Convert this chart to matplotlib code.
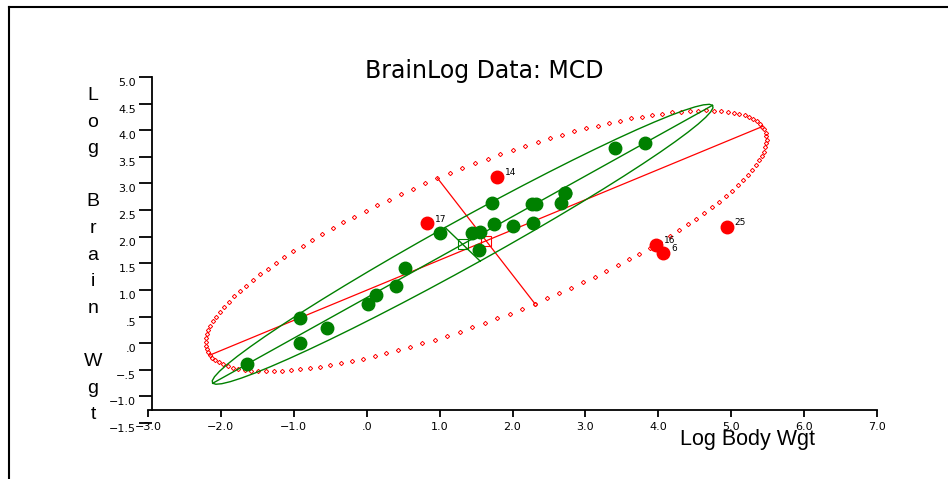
import numpy as np
import matplotlib
matplotlib.use("Agg")
from matplotlib import pyplot as plt
from matplotlib.transforms import ScaledTranslation
from matplotlib.lines import Line2D

# log10 body weight / log10 brain weight
good_x = [-1.64, -0.92, -0.91, -0.55, 0.02, 0.13, 0.40, 0.52, 1.00, 1.44, 1.54, 1.56,
          1.72, 1.74, 2.00, 2.27, 2.28, 2.32, 2.67, 2.72, 2.72, 3.41, 3.82]
good_y = [-0.40, 0.00, 0.48, 0.28, 0.74, 0.91, 1.08, 1.41, 2.06, 2.06, 1.75, 2.08,
          2.64, 2.24, 2.20, 2.62, 2.26, 2.61, 2.63, 2.82, 2.83, 3.66, 3.76]

# flagged outliers
out_x = [4.07, 1.79, 3.97, 0.83, 4.94]
out_y = [1.70, 3.12, 1.85, 2.25, 2.19]
out_labels = ["6", "14", "16", "17", "25"]

x_ticks = [-3.0, -2.0, -1.0, 0.0, 1.0, 2.0, 3.0, 4.0, 5.0, 6.0, 7.0]
x_tick_labels = ["\u22123.0", "\u22122.0", "\u22121.0", ".0", "1.0", "2.0", "3.0",
                 "4.0", "5.0", "6.0", "7.0"]
y_ticks = [-1.5, -1.0, -0.5, 0.0, 0.5, 1.0, 1.5, 2.0, 2.5, 3.0, 3.5, 4.0, 4.5, 5.0]
y_tick_labels = ["\u22121.5", "\u22121.0", "\u2212.5", ".0", ".5", "1.0", "1.5", "2.0",
                 "2.5", "3.0", "3.5", "4.0", "4.5", "5.0"]

ELL_SCALE = 2.35
GREEN = "#008000"
RED = "#ff0000"


def ellipse(xs, ys, n):
    pts = np.column_stack([xs, ys])
    c = pts.mean(axis=0)
    vals, vecs = np.linalg.eigh(np.cov(pts.T))
    semi = vecs * np.sqrt(vals) * ELL_SCALE   # col 0 minor, col 1 major
    t = np.linspace(0, 2 * np.pi, n)
    curve = c + np.column_stack([np.cos(t), np.sin(t)]) @ semi.T
    return c, semi, curve


fig = plt.figure(figsize=(9.48, 4.79), dpi=100)
ax = fig.add_axes([148 / 948, 56 / 479, 729 / 948, 346 / 479])
ax.set_xlim(-3.0, 7.0)
ax.set_ylim(-1.5, 5.0)

# classical ellipse (all points)
all_x = good_x + out_x
all_y = good_y + out_y
c_r, s_r, curve_r = ellipse(all_x, all_y, 141)
ax.plot(curve_r[:, 0], curve_r[:, 1], "D", ms=2.2, mfc="none", mec=RED, mew=0.7, clip_on=False)
for k in (0, 1):
    seg = np.array([c_r - s_r[:, k], c_r + s_r[:, k]])
    ax.plot(seg[:, 0], seg[:, 1], color=RED, lw=0.9, clip_on=False)
ax.plot([c_r[0]], [c_r[1]], "s", ms=7.5, mfc="none", mec=RED, mew=0.8)

# robust (MCD) ellipse
c_g, s_g, curve_g = ellipse(good_x, good_y, 61)
ax.plot(curve_g[:, 0], curve_g[:, 1], color=GREEN, lw=1.0, clip_on=False)
for k in (0, 1):
    seg = np.array([c_g - s_g[:, k], c_g + s_g[:, k]])
    ax.plot(seg[:, 0], seg[:, 1], color=GREEN, lw=1.0, clip_on=False)
ax.plot([c_g[0]], [c_g[1]], "s", ms=7.5, mfc="none", mec=GREEN, mew=0.8)

ax.plot(good_x, good_y, "o", ms=9, color=GREEN, mec=GREEN, zorder=5)
ax.plot(out_x, out_y, "o", ms=9, color=RED, mec=RED, zorder=5)
for x, y, lab in zip(out_x, out_y, out_labels):
    ax.annotate(lab, (x, y), xytext=(5.5, 3), textcoords="offset points",
                ha="left", va="center", fontsize=6.5, family="DejaVu Sans", zorder=6)

# axes in the old SAS style
for side in ("top", "right"):
    ax.spines[side].set_visible(False)
ax.spines["left"].set_position(("data", -2.945))
ax.spines["left"].set_bounds(-1.253, 5.0)
ax.spines["bottom"].set_position(("data", -1.253))
ax.spines["bottom"].set_bounds(-3.0, 7.0)
for side in ("left", "bottom"):
    ax.spines[side].set_linewidth(1.3)
ax.set_xticks(x_ticks, x_tick_labels)
ax.set_yticks(y_ticks, y_tick_labels)
ax.tick_params(axis="y", length=9.5, width=1.3, pad=2, labelsize=8)
ax.tick_params(axis="x", length=5, width=1.3, pad=4, labelsize=8)
shift = ScaledTranslation(0, -5 / 100, fig.dpi_scale_trans)
for lab in ax.get_yticklabels():
    lab.set_transform(lab.get_transform() + shift)

fig.text(484.7 / 948, 1 - 78 / 479, "BrainLog Data: MCD", ha="center", va="baseline",
         fontsize=17, family="DejaVu Sans")
fig.text(747 / 948, 1 - 445 / 479, "Log Body Wgt", ha="center", va="baseline",
         fontsize=15.5, family="Liberation Sans")
for i, ch in enumerate("Log Brain Wgt"):
    if ch != " ":
        fig.text(93 / 948, 1 - (100 + 26.6 * i) / 479, ch, ha="center", va="baseline",
                 fontsize=14, family="Liberation Sans")

# page frame
fig.add_artist(Line2D([9 / 948, 9 / 948], [0, 1 - 7 / 479], transform=fig.transFigure,
                      color="black", lw=1.5))
fig.add_artist(Line2D([9 / 948, 1], [1 - 7 / 479, 1 - 7 / 479], transform=fig.transFigure,
                      color="black", lw=1.5))

fig.savefig("out.png", dpi=100)
